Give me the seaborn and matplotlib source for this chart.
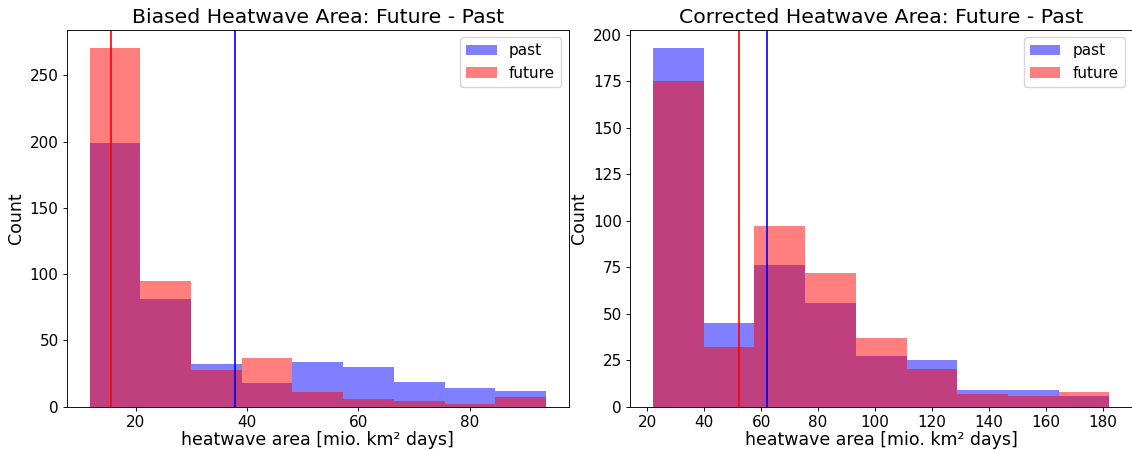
import numpy as np
import pandas as pd
import matplotlib
matplotlib.use("Agg")
import matplotlib.pyplot as plt
import seaborn as sns

# Histogram bin edges (mio. km² days)
biased_edges = [11.72, 20.84, 29.95, 39.07, 48.18, 57.30, 66.41, 75.53, 84.64, 93.76]
corrected_edges = [22.0, 39.81, 57.62, 75.43, 93.24, 111.05, 128.86, 146.67, 164.48, 182.29]

# Counts per bin
biased_past = [199, 81, 32, 18, 34, 30, 19, 14, 12]
biased_future = [271, 95, 28, 37, 11, 6, 4, 2, 7]
corrected_past = [193, 45, 76, 56, 27, 25, 9, 9, 6]
corrected_future = [175, 32, 97, 72, 37, 20, 7, 6, 8]

# Reference lines for each period
biased_lines = {"past": 37.8, "future": 15.6}
corrected_lines = {"past": 62.0, "future": 52.2}

titles = ["Biased Heatwave Area: Future - Past",
          "Corrected Heatwave Area: Future - Past"]
xlabel = "heatwave area [mio. km\u00b2 days]"

plt.rcParams.update({
    "font.family": ["DejaVu Sans"],
    "axes.linewidth": 0.65,
    "xtick.major.size": 2.9, "ytick.major.size": 2.9,
    "xtick.major.width": 0.65, "ytick.major.width": 0.65,
    "xtick.major.pad": 2.9, "ytick.major.pad": 2.9,
    "axes.titlepad": 4.9,
    "legend.fontsize": 11,
})

fig = plt.figure(figsize=(11.32, 4.5), dpi=100)
ax1 = fig.add_axes([66.7 / 1132, 1 - 406.7 / 450, 502.3 / 1132, 377.0 / 450])
ax2 = fig.add_axes([630.0 / 1132, 1 - 406.7 / 450, 502.3 / 1132, 377.0 / 450])

panels = [
    (ax1, biased_edges, biased_past, biased_future, biased_lines, titles[0]),
    (ax2, corrected_edges, corrected_past, corrected_future, corrected_lines, titles[1]),
]

for ax, edges, past, future, lines, title in panels:
    e = np.asarray(edges)
    centers = (e[:-1] + e[1:]) / 2
    df = pd.DataFrame({"area": centers, "past": past, "future": future})
    sns.histplot(data=df, x="area", weights="past", bins=list(edges), color="blue",
                 alpha=0.5, linewidth=0, ax=ax, label="past")
    sns.histplot(data=df, x="area", weights="future", bins=list(edges), color="red",
                 alpha=0.5, linewidth=0, ax=ax, label="future")
    ax.axvline(lines["future"], color="red", linewidth=1.2)
    ax.axvline(lines["past"], color="blue", linewidth=1.2)
    ax.set_title(title, fontsize=14.7)
    ax.set_xlabel(xlabel, fontsize=12.5, labelpad=1.2)
    ax.set_ylabel("Count", fontsize=12.5, labelpad=3.3)
    ax.tick_params(axis="both", labelsize=11)
    ax.legend(loc="upper right")

fig.savefig("out.png", dpi=100)
